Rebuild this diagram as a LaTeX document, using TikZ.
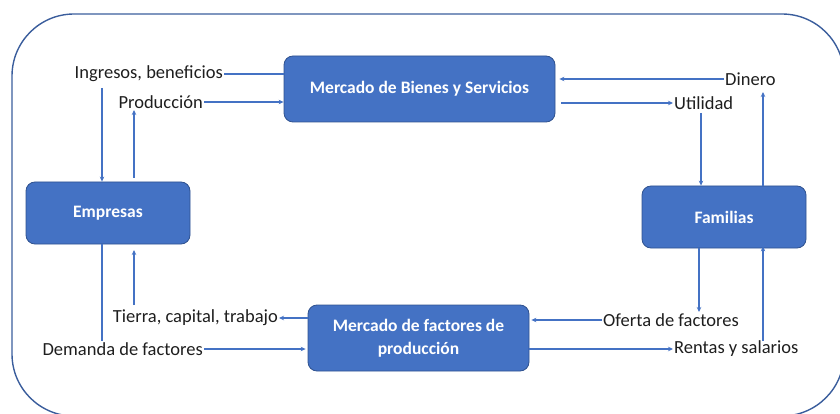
\documentclass[tikz,border=0pt]{standalone}
\usepackage{fontspec}
\setmainfont{Carlito}
\usetikzlibrary{arrows.meta}
\definecolor{boxblue}{HTML}{4472C4}
\definecolor{boxedge}{HTML}{2F528F}
\definecolor{lineblue}{HTML}{4472C4}
\definecolor{outerblue}{HTML}{3A5D9C}
\definecolor{txt}{HTML}{1E1E1E}
\begin{document}
\begin{tikzpicture}[x=1pt,y=-1pt,
  blk/.style={draw=boxedge,line width=0.8pt,fill=boxblue,rounded corners=9pt,text=white,font=\bfseries\fontsize{17.5}{23}\selectfont,align=center,inner sep=0pt},
  lbl/.style={text=txt,font=\fontsize{18.5}{22}\selectfont,inner sep=1pt},
  con/.style={draw=lineblue,line width=1.1pt},
  arr/.style={con,-{Stealth[length=5pt,width=4.5pt]}}]
\useasboundingbox (0,0) rectangle (840,414);
\begin{scope}
\clip (0,0) rectangle (840,414);
\draw[outerblue,line width=1.4pt,rounded corners=62pt] (12,14) rectangle (844,416);
\end{scope}
% boxes
\node[blk,minimum width=271pt,minimum height=66pt] (mbs) at (419.5,89) {Mercado de Bienes y Servicios};
\node[blk,minimum width=164pt,minimum height=62pt] (emp) at (108,213) {Empresas};
\node[blk,minimum width=164pt,minimum height=62pt] (fam) at (724,217) {Familias};
\node[blk,minimum width=221pt,minimum height=66pt] (mfp) at (418.5,338) {Mercado de factores de\\producción};
% labels
\node[lbl,anchor=east] (ing) at (224,74) {Ingresos, beneficios};
\node[lbl,anchor=east] (pro) at (204,102) {Producción};
\node[lbl,anchor=west] (din) at (724,79) {Dinero};
\node[lbl,anchor=west] (uti) at (673,103) {Utilidad};
\node[lbl,anchor=east] (tie) at (279,318) {Tierra, capital, trabajo};
\node[lbl,anchor=east] (dem) at (204,349) {Demanda de factores};
\node[lbl,anchor=west] (ofe) at (602,320) {Oferta de factores};
\node[lbl,anchor=west] (ren) at (673,349) {Rentas y salarios};
% coordinates for vertical connectors
\coordinate (ingB) at (102,88);
\coordinate (proB) at (134,110);
\coordinate (proS) at (134,178);
\coordinate (dinB) at (763,92);
\coordinate (utiB) at (701,113);
\coordinate (tieB) at (134,305);
\coordinate (tieT) at (134,250);
\coordinate (demB) at (102,341);
\coordinate (ofeB) at (699,312);
\coordinate (renB) at (763,341);
% top-left
\draw[con] (mbs.west |- ing.east) -- (ing.east);
\draw[arr] (ingB) -- (ingB |- emp.north);
\draw[arr] (pro.east) -- (mbs.west |- pro.east);
\draw[arr] (proS) -- (proB);
% top-right
\draw[arr] (din.west) -- ([xshift=4pt]mbs.east |- din.west);
\draw[arr] ([xshift=6pt]mbs.east |- uti.west) -- (uti.west);
\draw[arr] (utiB) -- (utiB |- fam.north);
\draw[arr] (dinB |- fam.north) -- (dinB);
% bottom-left
\draw[arr] (mfp.west |- tie.east) -- (tie.east);
\draw[arr] (tieB) -- (tieT);
\draw[con] (demB |- emp.south) -- (demB);
\draw[arr] (dem.east) -- ([xshift=-2pt]mfp.west |- dem.east);
% bottom-right
\draw[arr] (ofe.west) -- ([xshift=2pt]mfp.east |- ofe.west);
\draw[arr] (fam.south -| ofeB) -- (ofeB);
\draw[arr] (mfp.east |- ren.west) -- (ren.west);
\draw[arr] (renB) -- ([yshift=2pt]renB |- fam.south);
\end{tikzpicture}
\end{document}
